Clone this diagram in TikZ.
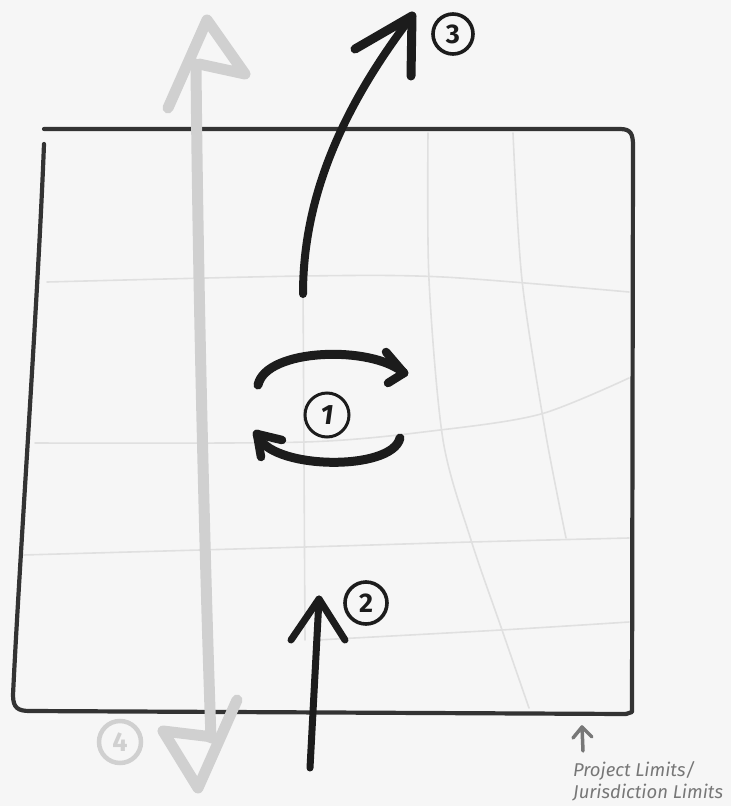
\documentclass[tikz,border=0pt]{standalone}
\usepackage{fontspec}
\setmainfont{Fira Sans}
\usetikzlibrary{arrows.meta}
\definecolor{paper}{HTML}{F6F6F6}
\definecolor{gridc}{HTML}{E0E0E0}
\definecolor{boxc}{HTML}{333333}
\definecolor{ink}{HTML}{1C1C1C}
\definecolor{ghost}{HTML}{D0D0D0}
\definecolor{note}{HTML}{777777}
\tikzset{
  gridline/.style={draw=gridc, line width=1.6pt, line cap=round},
  boxline/.style={draw=boxc, line width=4.2pt, line cap=round, line join=round},
  inkline/.style={draw=ink, line width=8pt, line cap=round, line join=round},
  ghostline/.style={draw=ghost, line width=11pt, line cap=round, line join=round},
  numcircle/.style={circle, draw=ink, line width=3.6pt, minimum size=42pt, inner sep=0pt,
     text=ink, font=\fontsize{27}{27}\selectfont\bfseries},
  ghostcircle/.style={circle, draw=ghost, line width=4.5pt, minimum size=42pt, inner sep=0pt,
     text=ghost, font=\fontsize{27}{27}\selectfont\bfseries},
  notetext/.style={text=note, font=\fontsize{18.5}{22}\selectfont\itshape, align=left, inner sep=0pt, anchor=north west}
}
\begin{document}
\begin{tikzpicture}[x=1pt,y=-1pt]
\fill[paper] (0,0) rectangle (731,806);
\useasboundingbox (0,0) rectangle (731,806);

% light grid
\draw[gridline] (303,280) -- (305,640);
\draw[gridline] plot[smooth] coordinates {(428,133) (429,280) (443,440) (471,540) (501,627) (529,708)};
\draw[gridline] plot[smooth] coordinates {(513,133) (522,280) (545,430) (566,538)};
\draw[gridline] plot[smooth] coordinates {(47,282) (303,276) (443,277) (629,292)};
\draw[gridline] plot[smooth] coordinates {(35,443) (305,442) (440,430) (541,414) (629,378)};
\draw[gridline] plot[smooth] coordinates {(23,555) (305,547) (471,542) (629,538)};
\draw[gridline] plot[smooth] coordinates {(317,640) (501,630) (629,622)};

% project limits box
\draw[boxline] (44,129) -- (620,129) .. controls (631,129) and (633,134) .. (633,146) -- (632,712) -- (626,714);
\draw[boxline] (44,144) .. controls (38,300) and (20,550) .. (13,695) .. controls (13,708) and (18,711) .. (30,711) -- (626,714);

% ghost arrow 4
\coordinate (g4top) at (196,64);
\coordinate (g4bot) at (211,738);
\draw[ghostline] (g4top) .. controls (198,300) and (206,600) .. (g4bot);
\draw[ghostline] (168,108) -- (207,20) -- (245,74) -- (199,64);
\draw[ghostline] (237,700) -- (198,788) -- (163,731) -- (213,737);
\node[ghostcircle] (c4) at (120,742) {4};

% arrow 3
\coordinate (a3tail) at (303,294);
\coordinate (a3tip) at (412,16);
\draw[inkline] (a3tail) .. controls (303,200) and (340,110) .. (a3tip);
\draw[inkline, line width=9pt] (355,49) -- (a3tip) -- (411,76);
\node[numcircle, minimum size=40pt] (c3) at (453,34) {3};

% arrow 2
\coordinate (a2tail) at (310,768);
\coordinate (a2tip) at (319,599);
\draw[inkline, line width=7pt] (a2tail) -- (a2tip);
\draw[inkline, line width=7pt] (291,640) -- (a2tip) -- (345,640);
\node[numcircle] (c2) at (366,603) {2};

% rotation arrows 1
\coordinate (r1s) at (258,385);
\coordinate (r1e) at (404,373);
\draw[inkline, line width=9pt] (r1s) .. controls (266,348) and (372,345) .. (r1e);
\draw[inkline, line width=8.5pt] (386,352) -- (r1e) -- (388,383);
\coordinate (r2s) at (400,438);
\coordinate (r2e) at (257,434);
\draw[inkline, line width=9pt] (r2s) .. controls (392,472) and (268,470) .. (r2e);
\draw[inkline, line width=8.5pt] (282,440) -- (r2e) -- (261,457);
\node[numcircle, minimum size=44pt, line width=3pt, font=\fontsize{28}{28}\selectfont\bfseries\itshape] (c1) at (327,415) {1};

% note
\coordinate (ntip) at (582,727);
\coordinate (ntail) at (583,751);
\draw[draw=note, line width=3.5pt, line cap=round, line join=round] (ntail) -- (ntip);
\draw[draw=note, line width=3.5pt, line cap=round, line join=round] (573,738) -- (ntip) -- (592,737);
\node[notetext] (nt) at (573,761) {Project Limits/\\Jurisdiction Limits};
\end{tikzpicture}
\end{document}
